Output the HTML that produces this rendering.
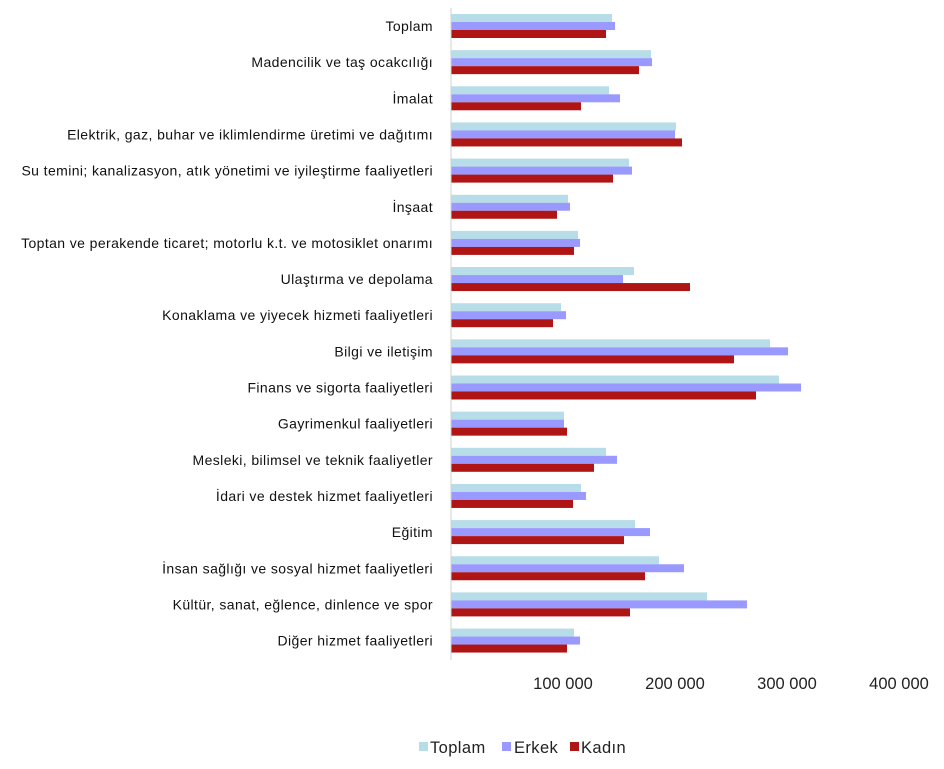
<!DOCTYPE html><html><head><meta charset="utf-8"><style>
body{margin:0;background:#fff;width:944px;height:764px;overflow:hidden;font-family:"Liberation Sans",sans-serif;}
</style></head><body>
<svg width="944" height="764" xmlns="http://www.w3.org/2000/svg" font-family="Liberation Sans, sans-serif">
<g id="bars"></g>
<line x1="451" y1="8" x2="451" y2="660" stroke="#d0d0d0" stroke-width="1"/>
<g font-size="16.5" fill="#222" text-anchor="middle">
<text x="563" y="689">100 000</text><text x="675" y="689">200 000</text><text x="787" y="689">300 000</text><text x="899" y="689">400 000</text>
</g>
<g font-size="16.5" fill="#222" letter-spacing="0.4">
<rect x="419" y="742" width="9" height="9" fill="#b7dde8"/><text x="430" y="753">Toplam</text>
<rect x="502" y="742" width="9" height="9" fill="#9999ff"/><text x="514" y="753">Erkek</text>
<rect x="570" y="742" width="9" height="9" fill="#b01515"/><text x="581" y="753">Kadın</text>
</g>
<g id="labels" font-size="14" fill="#111" text-anchor="end" letter-spacing="0.4"></g>
</svg>
<script>
var d=[["Toplam",612,615,606],["Madencilik ve taş ocakcılığı",651,652,639],["İmalat",609,620,581],["Elektrik, gaz, buhar ve iklimlendirme üretimi ve dağıtımı",676,675,682],["Su temini; kanalizasyon, atık yönetimi ve iyileştirme faaliyetleri",629,632,613],["İnşaat",568,570,557],["Toptan ve perakende ticaret; motorlu k.t. ve motosiklet onarımı",578,580,574],["Ulaştırma ve depolama",634,623,690],["Konaklama ve yiyecek hizmeti faaliyetleri",561,566,553],["Bilgi ve iletişim",770,788,734],["Finans ve sigorta faaliyetleri",779,801,756],["Gayrimenkul faaliyetleri",564,564,567],["Mesleki, bilimsel ve teknik faaliyetler",606,617,594],["İdari ve destek hizmet faaliyetleri",581,586,573],["Eğitim",635,650,624],["İnsan sağlığı ve sosyal hizmet faaliyetleri",659,684,645],["Kültür, sanat, eğlence, dinlence ve spor",707,747,630],["Diğer hizmet faaliyetleri",574,580,567]];
var cols=["#b7dde8","#9999ff","#b01515"],b="",l="";
d.forEach(function(r,i){var t=8+36.15*i;
for(var k=0;k<3;k++){b+='<rect x="451" y="'+(t+6+k*8)+'" width="'+(r[k+1]-451)+'" height="8" fill="'+cols[k]+'"/>';}
l+='<text x="433" y="'+(t+23)+'">'+r[0]+'</text>';});
document.getElementById("bars").innerHTML=b;document.getElementById("labels").innerHTML=l;
</script>
</body></html>
